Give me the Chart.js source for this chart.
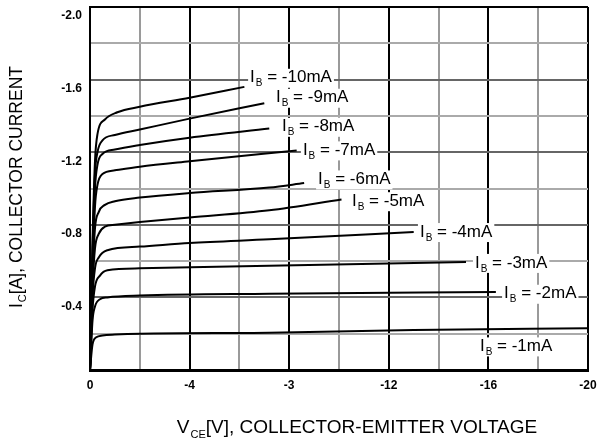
<!DOCTYPE html>
<html>
<head>
<meta charset="utf-8">
<script src="https://cdn.jsdelivr.net/npm/chart.js@4.4.1/dist/chart.umd.min.js"></script>
<style>
  html, body { margin: 0; padding: 0; background: #fff; }
  #wrap { width: 597px; height: 443px; }
</style>
</head>
<body>
<div id="wrap"><canvas id="ivChart"></canvas></div>
<script>
// base current of each curve, lowest first
const baseCurrents = ['-1mA', '-2mA', '-3mA', '-4mA', '-5mA', '-6mA', '-7mA', '-8mA', '-9mA', '-10mA'];

// [VCE (V), IC (A)]
const curve1 = [[0, 0], [-0.1, -0.14], [-0.25, -0.18], [-0.5, -0.19], [-1, -0.195], [-2, -0.2], [-7.2, -0.205], [-13, -0.22], [-20, -0.23]];
const curve2 = [[0, 0], [-0.1, -0.27], [-0.2, -0.35], [-0.4, -0.39], [-0.7, -0.4], [-2, -0.41], [-7.2, -0.42], [-16.3, -0.43]];
const curve3 = [[0, 0], [-0.1, -0.33], [-0.2, -0.46], [-0.4, -0.52], [-0.7, -0.55], [-2, -0.56], [-7.2, -0.575], [-15.1, -0.595]];
const curve4 = [[0, 0], [-0.1, -0.4], [-0.2, -0.56], [-0.35, -0.62], [-0.7, -0.66], [-2, -0.68], [-4, -0.7], [-7.2, -0.72], [-13, -0.76]];
const curve5 = [[0, 0], [-0.1, -0.45], [-0.2, -0.67], [-0.35, -0.75], [-0.6, -0.79], [-1, -0.8], [-2, -0.815], [-4, -0.84], [-7.2, -0.88], [-10.1, -0.94]];
const curve6 = [[0, 0], [-0.1, -0.5], [-0.2, -0.78], [-0.35, -0.87], [-0.6, -0.91], [-1, -0.93], [-2, -0.95], [-4, -0.975], [-7.2, -1.005], [-8.6, -1.03]];
const curve7 = [[0, 0], [-0.1, -0.55], [-0.2, -0.9], [-0.3, -1.02], [-0.5, -1.08], [-1, -1.1], [-2, -1.12], [-4, -1.15], [-8.3, -1.21]];
const curve8 = [[0, 0], [-0.1, -0.6], [-0.2, -1.0], [-0.3, -1.13], [-0.5, -1.19], [-1, -1.215], [-2, -1.24], [-4, -1.28], [-7.2, -1.33]];
const curve9 = [[0, 0], [-0.1, -0.65], [-0.2, -1.08], [-0.3, -1.2], [-0.5, -1.265], [-1, -1.295], [-2, -1.325], [-4, -1.385], [-7, -1.47]];
const curve10 = [[0, 0], [-0.1, -0.7], [-0.2, -1.15], [-0.3, -1.3], [-0.6, -1.38], [-1.1, -1.42], [-2, -1.45], [-4, -1.5], [-6.2, -1.56]];
const curves = [curve1, curve2, curve3, curve4, curve5, curve6, curve7, curve8, curve9, curve10];

const xTickValues = [0, -4, -8, -12, -16, -20];
const xTickLabels = ['0', '-4', '-3', '-12', '-16', '-20'];
const yTickValues = [-0.4, -0.8, -1.2, -1.6, -2.0];
const yTickLabels = ['-0.4', '-0.8', '-1.2', '-1.6', '-2.0'];

const FONT = "'Liberation Sans', Arial, sans-serif";

// draws "main" + subscript + "rest", returns total width
function subText(ctx, x, y, main, sub, rest, size, subSize, draw) {
  ctx.font = size + 'px ' + FONT;
  const w1 = ctx.measureText(main).width;
  const w3 = ctx.measureText(rest).width;
  ctx.font = subSize + 'px ' + FONT;
  const w2 = ctx.measureText(sub).width;
  if (draw) {
    ctx.font = size + 'px ' + FONT;
    ctx.fillText(main, x, y);
    ctx.font = subSize + 'px ' + FONT;
    ctx.fillText(sub, x + w1 + 1, y + size * 0.35);
    ctx.font = size + 'px ' + FONT;
    ctx.fillText(rest, x + w1 + w2 + 1, y);
  }
  return w1 + w2 + 1 + w3;
}

const annotate = {
  id: 'annotate',
  afterDatasetsDraw(chart, args, opts) {
    const { ctx, scales: { x, y } } = chart;
    ctx.save();
    ctx.fillStyle = '#000';
    ctx.textBaseline = 'middle';
    ctx.textAlign = 'left';
    baseCurrents.forEach((txt, i) => {
      const at = opts.spots[i];
      const px = x.getPixelForValue(at[0]);
      const py = y.getPixelForValue(at[1]);
      const w = subText(ctx, px, py, 'I', 'B', ' = ' + txt, 17, 10, false);
      ctx.fillStyle = '#fff';
      ctx.fillRect(px - 2, py - 9, w + 4, 19);
      ctx.fillStyle = '#000';
      subText(ctx, px, py, 'I', 'B', ' = ' + txt, 17, 10, true);
    });
    ctx.restore();
  },
  afterDraw(chart) {
    const { ctx } = chart;
    ctx.save();
    ctx.fillStyle = '#000';
    ctx.textBaseline = 'middle';
    ctx.textAlign = 'left';
    // x title
    let w = subText(ctx, 0, 0, 'V', 'CE', '[V], COLLECTOR-EMITTER VOLTAGE', 19, 11, false);
    subText(ctx, 357 - w / 2, 428, 'V', 'CE', '[V], COLLECTOR-EMITTER VOLTAGE', 19, 11, true);
    // y title
    ctx.translate(17, 187);
    ctx.rotate(-Math.PI / 2);
    w = subText(ctx, 0, 0, 'I', 'C', '[A], COLLECTOR CURRENT', 17.5, 11, false);
    subText(ctx, -w / 2, 0, 'I', 'C', '[A], COLLECTOR CURRENT', 17.5, 11, true);
    ctx.restore();
  }
};

new Chart(document.getElementById('ivChart'), {
  type: 'scatter',
  data: {
    datasets: curves.map((c, i) => ({
      label: baseCurrents[i],
      data: c.map(p => ({ x: p[0], y: p[1] })),
      showLine: true,
      borderColor: '#000',
      borderWidth: 2,
      pointRadius: 0,
      cubicInterpolationMode: 'monotone'
    }))
  },
  options: {
    responsive: true,
    maintainAspectRatio: false,
    animation: false,
    layout: { padding: { top: 7, right: 9, left: 0, bottom: 0 } },
    plugins: {
      legend: { display: false },
      tooltip: { enabled: false },
      annotate: {
        spots: [[-15.66, -0.13], [-16.63, -0.42], [-15.46, -0.59], [-13.25, -0.76], [-10.52, -0.93],
                [-9.16, -1.05], [-8.55, -1.21], [-7.71, -1.34], [-7.47, -1.5], [-6.43, -1.61]]
      }
    },
    scales: {
      x: {
        type: 'linear',
        min: -20,
        max: 0,
        reverse: true,
        afterFit(scale) { scale.height = 73; scale.paddingLeft = 0; scale.paddingRight = 0; },
        ticks: {
          stepSize: 2,
          autoSkip: false,
          maxRotation: 0,
          padding: 8,
          color: '#000',
          font: { family: FONT, size: 12, weight: 'bold' },
          callback: (v) => {
            const i = xTickValues.indexOf(Math.round(v));
            return i >= 0 ? xTickLabels[i] : '';
          }
        },
        grid: {
          drawTicks: false,
          lineWidth: 2,
          color: (c) => (Math.round(c.tick.value) % 4 === 0 ? '#000' : '#9a9a9a')
        },
        border: { display: true, color: '#000', width: 3 }
      },
      y: {
        type: 'linear',
        min: -2,
        max: 0,
        reverse: true,
        afterFit(scale) { scale.width = 90; scale.paddingTop = 0; scale.paddingBottom = 0; },
        ticks: {
          stepSize: 0.2,
          autoSkip: false,
          padding: 8,
          labelOffset: 9,
          color: '#000',
          font: { family: FONT, size: 12, weight: 'bold' },
          callback: (v) => {
            const i = yTickValues.findIndex(t => Math.abs(t - v) < 1e-6);
            return i >= 0 ? yTickLabels[i] : '';
          }
        },
        grid: {
          drawTicks: false,
          lineWidth: 2,
          color: (c) => {
            if (c.tick.value <= -1.999) return '#000';
            return Math.round(c.tick.value * 10) % 4 === 0 ? '#666' : '#aaa';
          }
        },
        border: { display: true, color: '#000', width: 2 }
      }
    }
  },
  plugins: [annotate]
});
</script>
</body>
</html>
